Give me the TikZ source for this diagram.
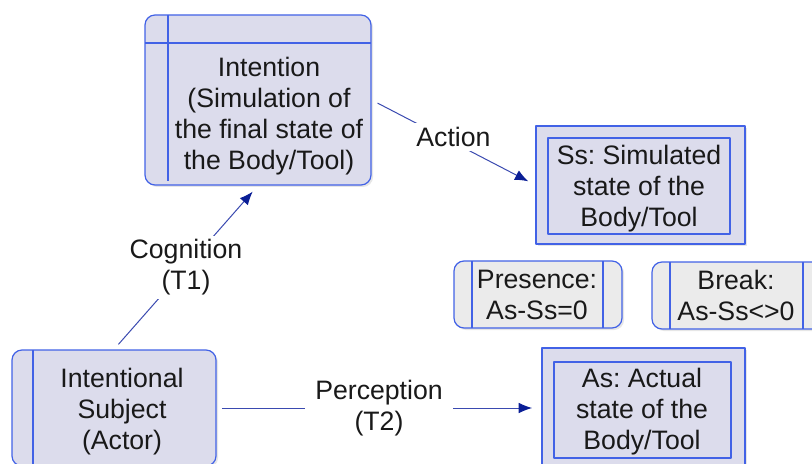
\documentclass[tikz,border=0pt]{standalone}
\usepackage{fontspec}
\setmainfont{Liberation Sans}
\frenchspacing
\usetikzlibrary{fit,arrows.meta,shadows}
\definecolor{boxfill}{HTML}{DCDCEC}
\definecolor{boxline}{HTML}{4262E6}
\definecolor{greyfill}{HTML}{EBEBEB}
\definecolor{linkline}{HTML}{3A4AB0}
\definecolor{tipcol}{HTML}{0A1E96}
\tikzset{
	boxframe/.style={draw=boxline, fill=boxfill, line width=0.9pt, inner sep=0pt,
		drop shadow={opacity=0.2, shadow xshift=1.5pt, shadow yshift=-1.5pt}},
	innerframe/.style={draw=boxline, fill=boxfill, line width=0.8pt, inner sep=0pt},
	divider/.style={draw=boxline, line width=0.8pt},
	txt/.style={align=center, inner sep=0pt, text=black!90, font=\fontsize{20}{23.25}\selectfont},
	lbl/.style={txt, fill=white, inner sep=3pt},
	conn/.style={draw=linkline, line width=0.75pt, -{Latex[length=10pt, width=8pt, color=tipcol]}}
}
\begin{document}
\begin{tikzpicture}[x=0.75pt, y=-0.75pt, line join=round]
	\useasboundingbox (0,0) rectangle (812,463);
	% intention
	\node[boxframe, rounded corners=7.5pt, fit={(145,15) (371,185)}] (intention) {};
	\draw[divider] (168,15) -- (168,181);
	\draw[divider] (145,43) -- (371,43);
	\node[txt] (intentiontext) at (269,116) {Intention\\(Simulation of\\the final state of\\the Body/Tool)};
	% subject
	\node[boxframe, rounded corners=7.5pt, fit={(12,350) (216,466)}] (subject) {};
	\draw[divider] (33,350) -- (33,466);
	\node[txt] (subjecttext) at (122,412) {Intentional\\Subject\\(Actor)};
	% simulated state
	\node[boxframe, fit={(536,126) (745,244)}] (ss) {};
	\node[innerframe, fit={(548,138) (730,234)}] (ssinner) {};
	\node[txt] (sstext) at (639,189) {Ss: Simulated\\state of the\\Body/Tool};
	% actual state
	\node[boxframe, fit={(542,348) (745,470)}] (as) {};
	\node[innerframe, fit={(554,362) (731,458)}] (asinner) {};
	\node[txt] (astext) at (642,412) {As: Actual\\state of the\\Body/Tool};
	% presence and break
	\node[boxframe, fill=greyfill, rounded corners=7.5pt, fit={(454,261) (622,328)}] (presence) {};
	\draw[divider] (472,261) -- (472,328);
	\draw[divider] (603,261) -- (603,328);
	\node[txt] (presencetext) at (537,295) {Presence:\\As-Ss=0};
	\node[boxframe, fill=greyfill, rounded corners=7.5pt, fit={(652,262) (822,329)}] (break) {};
	\draw[divider] (670,262) -- (670,329);
	\draw[divider] (803,262) -- (803,329);
	\node[txt] (breaktext) at (736,295) {Break:\\As-Ss<>0};
	% links
	\draw[conn, shorten <=5pt, shorten >=6pt] (subject.north) -- (intention.south)
		node[lbl, midway] {Cognition\\(T1)};
	\draw[conn, shorten <=5pt, shorten >=6pt] (intention.east) -- (ss.west)
		node[lbl, midway, yshift=4pt] {Action};
	\draw[conn, shorten <=4pt, shorten >=7pt] (subject.east) -- (subject.east -| as.west)
		node[lbl, midway, inner xsep=8pt] {Perception\\(T2)};
\end{tikzpicture}
\end{document}
